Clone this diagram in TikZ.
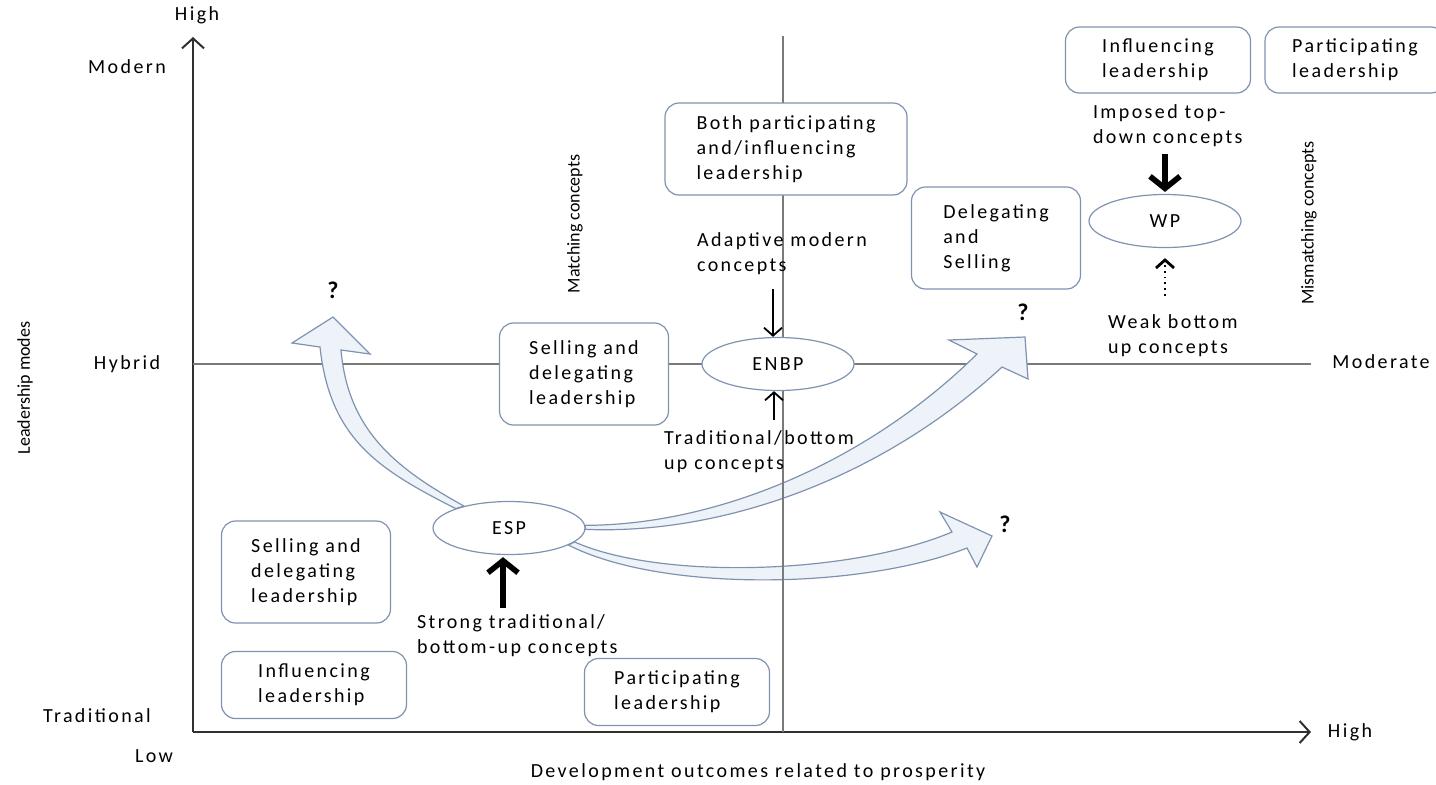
\documentclass[tikz,border=0pt]{standalone}
\usepackage{fontspec}
\setmainfont{Carlito}[LetterSpace=12]
\newfontfamily\narrowfont{Carlito}
\usetikzlibrary{arrows.meta, positioning, shapes.geometric, calc}
\definecolor{cedge}{HTML}{7F93B0}
\definecolor{cfill}{HTML}{EEF3FA}
\definecolor{caxis}{HTML}{303030}
\definecolor{cline}{HTML}{7A7A7A}
\tikzset{
  every picture/.style={font=\fontsize{10}{12.5}\selectfont},
  box/.style={draw=cedge, fill=white, rounded corners=7pt, align=left, inner xsep=6pt, inner ysep=3pt, line width=0.6pt, minimum width=#1},
  blob/.style={ellipse, draw=cedge, fill=white, line width=0.6pt, inner sep=0pt, minimum width=76pt, minimum height=26.5pt},
  lbl/.style={align=left, anchor=west},
  side/.style={font=\narrowfont\fontsize{9}{11}\selectfont, rotate=90},
  qmark/.style={font=\fontsize{12}{14}\selectfont\bfseries},
  axis/.style={draw=caxis, line width=1pt, -{Straight Barb[length=5pt, width=11pt]}},
  quad/.style={draw=cline, line width=0.8pt},
  thinarrow/.style={-{Straight Barb[length=4pt, width=9pt]}, line width=0.9pt},
  heavyarrow/.style={-{Straight Barb[length=6pt, width=15pt]}, line width=2.8pt},
  blockarrow/.style={draw=cedge, fill=cfill, line width=0.6pt},
}

\begin{document}
\begin{tikzpicture}[x=0.5pt, y=-0.5pt]
  \useasboundingbox (0,0) rectangle (1436,784);
  % axes
  \coordinate (origin) at (193,732);
  \coordinate (ytop) at (193,37);
  \coordinate (xend) at (1311,732);
  \draw[axis] (origin) -- (ytop);
  \draw[axis] (origin) -- (xend);
  \node (yhigh) at (197,15) {High};
  \node (modern) at (127,67) {Modern};
  \node (hybrid) at (127,364) {Hybrid};
  \node (trad) at (97,716) {Traditional};
  \node (low) at (154,756) {Low};
  \node (xhigh) at (1350,732) {High};
  \node (moderate) at (1381,362) {Moderate};
  \node (xtitle) at (758,772) {Development outcomes related to prosperity};
  \node[side] (ytitle) at (25,388) {Leadership modes};
  % quadrant lines
  \coordinate (hleft) at (193,364);
  \coordinate (hright) at (1311,364);
  \draw[quad] (hleft) -- (hright);
  \node[blob] (esp) at (509,528) {ESP};
  % curved block arrows out of ESP
  \draw[blockarrow] (esp.160) .. controls (380,470) and (330,440) .. (320,347)
    -- (292,343) -- (333,317) -- (370,354) -- (341,350)
    .. controls (348,430) and (395,468) .. (esp.154) -- cycle;
  \draw[blockarrow] (esp.2) .. controls (720,525) and (870,460) .. (977,354)
    -- (949,340) -- (1025,337) -- (1028,379) -- (1002,367)
    .. controls (880,480) and (720,535) .. (esp.-1) -- cycle;
  \draw[blockarrow] (esp.-12) .. controls (660,580) and (850,575) .. (952,532)
    -- (940,512) -- (992,536) -- (977,567) -- (967,548)
    .. controls (860,590) and (660,592) .. (esp.-16) -- cycle;
  \coordinate (vtop) at (783,36);
  \coordinate (vbot) at (783,732);
  \draw[quad] (vtop) -- (vbot);
  \node[side] (match) at (575,224) {Matching concepts};
  \node[side] (mismatch) at (1309,223) {Mismatching concepts};
  % leadership boxes
  \node[box=121pt, minimum height=46pt] (both) at (786,149) {Both participating\\and/influencing\\leadership};
  \node[box=84.5pt, minimum height=51pt] (delsell) at (996,238) {Delegating\\and\\Selling};
  \node[box=92.5pt, minimum height=33pt] (inftop) at (1158,60) {Influencing\\leadership};
  \node[box=90pt, minimum height=33pt] (parttop) at (1355,60) {Participating\\leadership};
  \node[box=84.5pt, minimum height=51pt] (selmid) at (584,374) {Selling and\\delegating\\leadership};
  \node[box=84.5pt, minimum height=51pt] (selbot) at (306,572) {Selling and\\delegating\\leadership};
  \node[box=92.5pt, minimum height=33.5pt] (infbot) at (314,685) {Influencing\\leadership};
  \node[box=92.5pt, minimum height=33.5pt] (partbot) at (677,692) {Participating\\leadership};
  % places
  \node[blob] (enbp) at (778,364) {ENBP};
  \node[blob] (wp) at (1165,221) {WP};
  \node[qmark] (q1) at (333,290) {?};
  \node[qmark] (q2) at (1023,312) {?};
  \node[qmark] (q3) at (1005,524) {?};
  % concepts acting on the places
  \node[lbl] (adapt) at (690,254) {Adaptive modern\\concepts};
  \node[lbl] (tradup) at (657,452) {Traditional/bottom\\up concepts};
  \node[lbl] (imposed) at (1086,126) {Imposed top-\\down concepts};
  \node[lbl] (weak) at (1101,336) {Weak bottom\\up concepts};
  \node[lbl] (strong) at (410,636) {Strong traditional/\\bottom-up concepts};
  \coordinate (enbpin) at ([xshift=-2.5pt]enbp.north);
  \coordinate (enbpout) at ([xshift=-2pt]enbp.south);
  \coordinate (espin) at ([xshift=-3pt]esp.south);
  \draw[thinarrow, shorten <=3.5pt] (adapt.south -| enbpin) -- (enbpin);
  \draw[thinarrow, shorten <=2pt] (tradup.north -| enbpout) -- (enbpout);
  \draw[heavyarrow, shorten >=1pt] (imposed.south -| wp.north) -- (wp.north);
  \draw[thinarrow, dotted, line width=1.4pt, shorten <=6pt, shorten >=5pt] (weak.north -| wp.south) -- (wp.south);
  \draw[heavyarrow, shorten >=1pt] (strong.north -| espin) -- (espin);
\end{tikzpicture}
\end{document}
